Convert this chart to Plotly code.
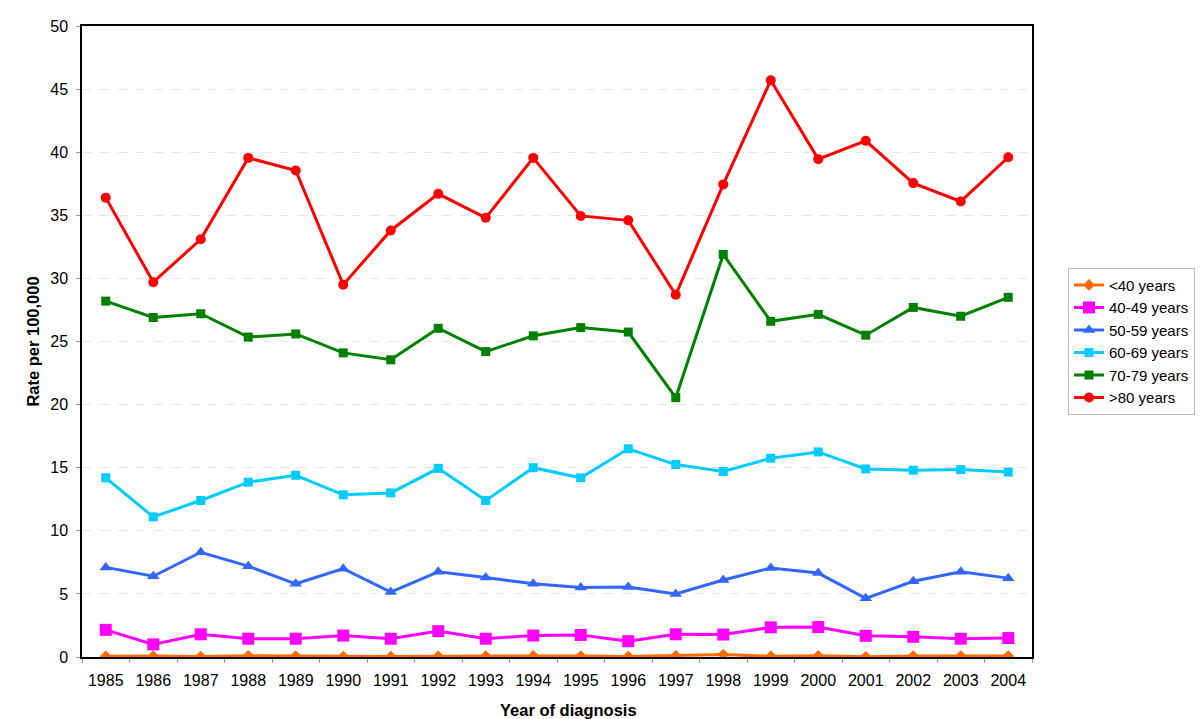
import plotly.graph_objects as go

years = [str(y) for y in range(1985, 2005)]

lt40 = [0.05, 0.08, 0.03, 0.10, 0.08, 0.04, 0.03, 0.06, 0.07, 0.10,
        0.08, 0.03, 0.10, 0.20, 0.05, 0.10, 0.02, 0.08, 0.07, 0.08]
a40_49 = [2.15, 1.0, 1.8, 1.45, 1.45, 1.7, 1.45, 2.05, 1.45, 1.7,
          1.75, 1.25, 1.8, 1.78, 2.35, 2.37, 1.68, 1.6, 1.45, 1.5]
a50_59 = [7.1, 6.4, 8.3, 7.2, 5.8, 7.0, 5.15, 6.75, 6.3, 5.8,
          5.5, 5.55, 5.0, 6.1, 7.05, 6.65, 4.65, 6.0, 6.75, 6.25]
a60_69 = [14.2, 11.1, 12.4, 13.85, 14.4, 12.85, 13.0, 14.95, 12.4, 15.0,
          14.2, 16.5, 15.25, 14.7, 15.75, 16.25, 14.9, 14.8, 14.85, 14.65]
a70_79 = [28.2, 26.9, 27.2, 25.35, 25.6, 24.1, 23.55, 26.05, 24.2, 25.45,
          26.1, 25.75, 20.55, 31.9, 26.6, 27.15, 25.5, 27.7, 27.0, 28.5]
gt80 = [36.4, 29.7, 33.1, 39.55, 38.55, 29.5, 33.8, 36.7, 34.8, 39.55,
        34.95, 34.6, 28.7, 37.45, 45.7, 39.45, 40.9, 37.55, 36.1, 39.6]

series = [
    ("<40 years", lt40, "#FF6A00", "diamond", 9),
    ("40-49 years", a40_49, "#FF00FF", "square", 12),
    ("50-59 years", a50_59, "#3366FF", "triangle-up", 11),
    ("60-69 years", a60_69, "#00CCFF", "square", 9),
    ("70-79 years", a70_79, "#008000", "square", 9),
    (">80 years", gt80, "#FF0000", "circle", 10),
]

fig = go.Figure()
for name, vals, color, sym, size in series:
    fig.add_trace(go.Scatter(
        x=years, y=vals, name=name, mode="lines+markers",
        line=dict(color=color, width=3),
        marker=dict(symbol=sym, size=size, color=color),
    ))

fig.update_layout(
    width=1200, height=719,
    margin=dict(l=82, r=168, t=26, b=62, autoexpand=False),
    paper_bgcolor="white", plot_bgcolor="white",
    font=dict(family="Liberation Sans, Arial, sans-serif", size=16, color="black"),
    showlegend=True,
    legend=dict(x=(1068 - 82) / 950, y=0.617, xanchor="left", yanchor="top",
                bordercolor="#BBBBBB", borderwidth=1, bgcolor="white",
                font=dict(size=15), tracegroupgap=0, itemwidth=30),
    xaxis=dict(
        type="category", range=[-0.5, 19.5], automargin=False,
        showline=True, linecolor="black", linewidth=1.5, mirror=True,
        ticks="outside", ticklen=4, tickcolor="#999999", tickson="boundaries",
        ticklabelstandoff=8,
        showgrid=False, zeroline=False,
        tickfont=dict(size=16),
    ),
    yaxis=dict(
        range=[0, 50], dtick=5, automargin=False,
        showline=True, linecolor="black", linewidth=1.5, mirror=True,
        ticks="outside", ticklen=4, tickcolor="#999999",
        ticklabelstandoff=5,
        showgrid=True, gridcolor="#E6E6E6", griddash="dash", gridwidth=1,
        zeroline=False,
        title=dict(text="<b>Rate per 100,000</b>", font=dict(size=16.5), standoff=6),
        tickfont=dict(size=16),
    ),
    annotations=[dict(
        text="<b>Year of diagnosis</b>", xref="paper", yref="paper",
        x=(568.5 - 82) / 950, y=(657 - 710) / 631, xanchor="center", yanchor="middle",
        showarrow=False, font=dict(size=16.5),
    )],
)

fig.write_html("out.html", config={"displayModeBar": False},
               post_script="document.body.style.margin='0';")
